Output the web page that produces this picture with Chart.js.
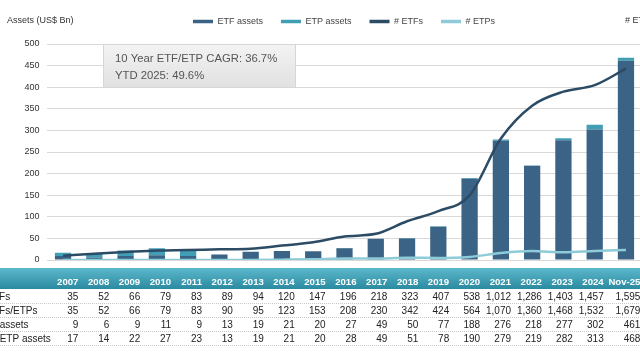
<!DOCTYPE html>
<html>
<head>
<meta charset="utf-8">
<script src="https://cdn.jsdelivr.net/npm/chart.js@4.4.1/dist/chart.umd.min.js"></script>
<style>
  html, body { margin: 0; padding: 0; background: #fff; width: 640px; height: 360px; overflow: hidden; }
  #wrap { position: absolute; left: -40px; top: 0; width: 768px; height: 360px; }
</style>
</head>
<body>
<div id="wrap"><canvas id="chart"></canvas></div>
<script>
const years = ['2007','2008','2009','2010','2011','2012','2013','2014','2015','2016','2017','2018','2019','2020','2021','2022','2023','2024','Nov-25'];
const etfAssets = [9,6,9,11,9,13,19,21,20,27,49,50,77,188,276,218,277,302,461];
const etpAssets = [8,8,13,16,14,0,0,0,0,1,0,1,1,2,3,1,5,11,7];
const totalAssets = [17,14,22,27,23,13,19,21,20,28,49,51,78,190,279,219,282,313,468];
const etfCount = [35,52,66,79,83,89,94,120,147,196,218,323,407,538,1012,1286,1403,1457,1595];
const etpCount = [0,0,0,0,0,1,1,3,6,12,12,19,17,26,58,74,65,75,84];
const totalCount = [35,52,66,79,83,90,95,123,153,208,230,342,424,564,1070,1360,1468,1532,1679];
const assetTicks = { min: 0, max: 500, step: 50 };
const countTicks = { min: 0, max: 1800 };

const tableRows = [
  ['# ETFs', etfCount],
  ['# ETFs/ETPs', totalCount],
  ['ETF assets', etfAssets],
  ['ETF/ETP assets', totalAssets],
];
const noteLines = ['10 Year ETF/ETP CAGR: 36.7%', 'YTD 2025: 49.6%'];

const FONT = "'Liberation Sans', Arial, sans-serif";

// right edge of each table column; the last column is a bit wider
function colRight(x, i) {
  return i < years.length - 1 ? x.left + 31 + i * 30.9 : x.left + 593;
}

const extras = {
  id: 'extras',
  beforeLayout(chart) {
    if (chart.legend && !chart.legend._patched) {
      const fit = chart.legend.fit;
      chart.legend.fit = function () { fit.call(this); this.height = 45; };
      chart.legend._patched = true;
    }
  },
  afterDraw(chart) {
    const ctx = chart.ctx;
    const x = chart.scales.x;
    ctx.save();

    // axis titles
    ctx.font = '9px ' + FONT;
    ctx.fillStyle = '#333';
    ctx.textBaseline = 'middle';
    ctx.textAlign = 'left';
    ctx.fillText('Assets (US$ Bn)', 47, 21);
    ctx.fillText('# ETFs/ETPs', 665, 21);

    // note box
    const bx = 143, by = 44, bw = 193, bh = 44;
    const g = ctx.createLinearGradient(0, by, 0, by + bh);
    g.addColorStop(0, '#f3f3f3');
    g.addColorStop(1, '#e1e1e1');
    ctx.fillStyle = g;
    ctx.fillRect(bx, by, bw, bh);
    ctx.strokeStyle = '#d6d6d6';
    ctx.lineWidth = 1;
    ctx.strokeRect(bx + 0.5, by + 0.5, bw - 1, bh - 1);
    ctx.font = '11.3px ' + FONT;
    ctx.fillStyle = '#555';
    ctx.fillText(noteLines[0], 155, 59);
    ctx.fillText(noteLines[1], 155, 76);

    // table header band
    const hg = ctx.createLinearGradient(0, 268, 0, 289);
    hg.addColorStop(0, '#5cb8cb');
    hg.addColorStop(1, '#2b8aa1');
    ctx.fillStyle = hg;
    ctx.fillRect(0, 268, chart.width, 21);

    ctx.textAlign = 'right';
    ctx.font = 'bold 9.6px ' + FONT;
    ctx.fillStyle = '#fff';
    years.forEach((yr, i) => {
      ctx.fillText(yr, colRight(x, i), 282);
    });

    // table rows
    ctx.font = '10px ' + FONT;
    tableRows.forEach((row, r) => {
      const cy = 297 + r * 14;
      ctx.fillStyle = '#222';
      ctx.textAlign = 'left';
      ctx.fillText(row[0], 18, cy);
      ctx.textAlign = 'right';
      row[1].forEach((v, i) => {
        ctx.fillText(v.toLocaleString('en-US'), colRight(x, i), cy);
      });
      ctx.strokeStyle = '#c8c8c8';
      ctx.setLineDash([1, 1]);
      ctx.beginPath();
      ctx.moveTo(0, cy + 6.5);
      ctx.lineTo(chart.width, cy + 6.5);
      ctx.stroke();
      ctx.setLineDash([]);
    });
    ctx.restore();
  }
};

new Chart(document.getElementById('chart'), {
  data: {
    labels: years,
    datasets: [
      { type: 'bar', label: 'ETF assets', data: etfAssets, backgroundColor: '#3b6385', yAxisID: 'y', order: 2, stack: 'a' },
      { type: 'bar', label: 'ETP assets', data: etpAssets, backgroundColor: '#419fb5', yAxisID: 'y', order: 2, stack: 'a' },
      { type: 'line', label: '# ETFs', data: etfCount, borderColor: '#2c4b65', backgroundColor: '#2c4b65', borderWidth: 2.5, pointRadius: 0, cubicInterpolationMode: 'monotone', yAxisID: 'y1', order: 0 },
      { type: 'line', label: '# ETPs', data: etpCount, borderColor: '#8ecbd8', backgroundColor: '#8ecbd8', borderWidth: 2.5, pointRadius: 0, cubicInterpolationMode: 'monotone', yAxisID: 'y1', order: 0 },
    ]
  },
  options: {
    responsive: true,
    maintainAspectRatio: false,
    animation: false,
    layout: { padding: { top: -1, bottom: 100, left: 0, right: 0 } },
    datasets: { bar: { barPercentage: 0.52, categoryPercentage: 1 } },
    plugins: {
      legend: {
        labels: {
          boxWidth: 20,
          boxHeight: 3.5,
          padding: 18,
          color: '#444',
          font: { size: 9, family: FONT },
          sort: (a, b) => a.datasetIndex - b.datasetIndex,
          generateLabels: (chart) => Chart.defaults.plugins.legend.labels.generateLabels(chart)
            .map((item) => Object.assign(item, { lineWidth: 0 }))
        }
      },
      tooltip: { enabled: false }
    },
    scales: {
      x: { display: false, stacked: true },
      y: {
        stacked: true,
        min: assetTicks.min,
        max: assetTicks.max,
        afterFit: (s) => { s.width = 87.4; },
        ticks: { stepSize: assetTicks.step, padding: 8, color: '#333', font: { size: 9, family: FONT } },
        grid: { color: '#d9d9d9', drawTicks: false },
        border: { display: false }
      },
      y1: {
        position: 'right',
        min: countTicks.min,
        max: countTicks.max,
        afterFit: (s) => { s.width = 86.4; },
        ticks: { display: false },
        grid: { drawOnChartArea: false, drawTicks: false },
        border: { display: false }
      }
    }
  },
  plugins: [extras]
});
</script>
</body>
</html>
